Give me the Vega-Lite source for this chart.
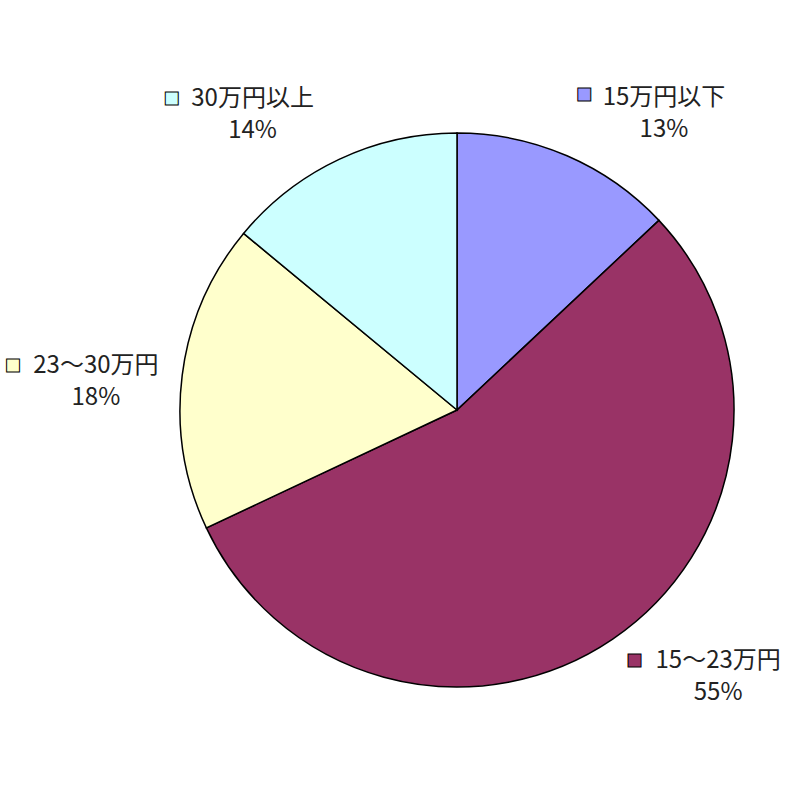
{
  "$schema": "https://vega.github.io/schema/vega-lite/v6.json",
  "autosize": {"type": "none"},
  "width": 800,
  "height": 800,
  "padding": {"left": 57, "top": 10, "right": 0, "bottom": 0},
  "background": "white",
  "config": {"view": {"stroke": null}},
  "data": {
    "values": [
      {"cat": "15万円以下", "pct": 13, "label": "15万円以下\n13%", "order": 1},
      {"cat": "15～23万円", "pct": 55, "label": "15～23万円\n55%", "order": 2},
      {"cat": "23～30万円", "pct": 18, "label": "23～30万円\n18%", "order": 3},
      {"cat": "30万円以上", "pct": 14, "label": "30万円以上\n14%", "order": 4}
    ]
  },
  "encoding": {
    "theta": {"field": "pct", "type": "quantitative", "stack": true},
    "order": {"field": "order", "type": "quantitative"}
  },
  "layer": [
    {
      "mark": {"type": "arc", "outerRadius": 277, "stroke": "#000000", "strokeWidth": 1.5},
      "encoding": {
        "color": {
          "field": "cat",
          "type": "nominal",
          "legend": null,
          "scale": {
            "domain": ["15万円以下", "15～23万円", "23～30万円", "30万円以上"],
            "range": ["#9999FF", "#993366", "#FFFFCC", "#CCFFFF"]
          }
        }
      }
    },
    {
      "mark": {"type": "text", "radius": 365, "dx": 62, "dy": 23, "font": "Noto Sans CJK JP", "fontSize": 24, "lineBreak": "\n", "lineHeight": 32, "align": "center", "baseline": "middle", "color": "#222222"},
      "encoding": {"text": {"condition": {"test": "datum.order === 1", "field": "label"}, "value": ""}}
    },
    {
      "mark": {"type": "text", "radius": 365, "dx": 56, "dy": -51, "font": "Noto Sans CJK JP", "fontSize": 24, "lineBreak": "\n", "lineHeight": 32, "align": "center", "baseline": "middle", "color": "#222222"},
      "encoding": {"text": {"condition": {"test": "datum.order === 2", "field": "label"}, "value": ""}}
    },
    {
      "mark": {"type": "text", "radius": 365, "dx": 1, "dy": 2, "font": "Noto Sans CJK JP", "fontSize": 24, "lineBreak": "\n", "lineHeight": 32, "align": "center", "baseline": "middle", "color": "#222222"},
      "encoding": {"text": {"condition": {"test": "datum.order === 3", "field": "label"}, "value": ""}}
    },
    {
      "mark": {"type": "text", "radius": 365, "dx": -49, "dy": 19, "font": "Noto Sans CJK JP", "fontSize": 24, "lineBreak": "\n", "lineHeight": 32, "align": "center", "baseline": "middle", "color": "#222222"},
      "encoding": {"text": {"condition": {"test": "datum.order === 4", "field": "label"}, "value": ""}}
    },
    {
      "mark": {"type": "text", "radius": 365, "dx": -18, "dy": 19, "font": "DejaVu Sans", "fontSize": 17, "align": "center", "baseline": "middle", "stroke": "#000000", "strokeWidth": 1},
      "encoding": {
        "text": {"condition": {"test": "datum.order === 1", "value": "■"}, "value": ""},
        "color": {"field": "cat", "type": "nominal", "legend": null}
      }
    },
    {
      "mark": {"type": "text", "radius": 365, "dx": -28, "dy": -52, "font": "DejaVu Sans", "fontSize": 17, "align": "center", "baseline": "middle", "stroke": "#000000", "strokeWidth": 1},
      "encoding": {
        "text": {"condition": {"test": "datum.order === 2", "value": "■"}, "value": ""},
        "color": {"field": "cat", "type": "nominal", "legend": null}
      }
    },
    {
      "mark": {"type": "text", "radius": 365, "dx": -82, "dy": 1, "font": "DejaVu Sans", "fontSize": 17, "align": "center", "baseline": "middle", "stroke": "#000000", "strokeWidth": 1},
      "encoding": {
        "text": {"condition": {"test": "datum.order === 3", "value": "■"}, "value": ""},
        "color": {"field": "cat", "type": "nominal", "legend": null}
      }
    },
    {
      "mark": {"type": "text", "radius": 365, "dx": -130, "dy": 18, "font": "DejaVu Sans", "fontSize": 17, "align": "center", "baseline": "middle", "stroke": "#000000", "strokeWidth": 1},
      "encoding": {
        "text": {"condition": {"test": "datum.order === 4", "value": "■"}, "value": ""},
        "color": {"field": "cat", "type": "nominal", "legend": null}
      }
    }
  ]
}
